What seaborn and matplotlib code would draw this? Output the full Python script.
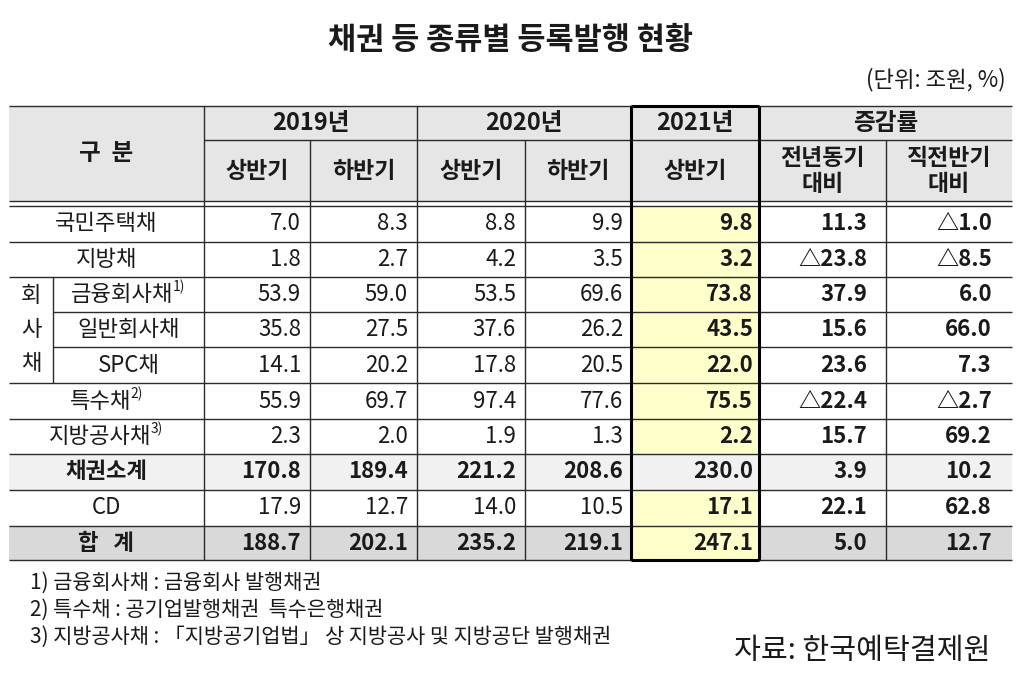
import numpy as np
import matplotlib.pyplot as plt
import seaborn as sns

sns.set_theme(style="white")
plt.rcParams['font.family'] = ['Noto Sans CJK KR', 'DejaVu Sans']

# --- table data (조원, %) ---
row_labels = ["국민주택채", "지방채", "금융회사채", "일반회사채", "SPC채",
              "특수채", "지방공사채", "채권소계", "CD", "합   계"]
row_notes = ["", "", "1)", "", "", "2)", "3)", "", "", ""]
h1_2019 = [7.0, 1.8, 53.9, 35.8, 14.1, 55.9, 2.3, 170.8, 17.9, 188.7]
h2_2019 = [8.3, 2.7, 59.0, 27.5, 20.2, 69.7, 2.0, 189.4, 12.7, 202.1]
h1_2020 = [8.8, 4.2, 53.5, 37.6, 17.8, 97.4, 1.9, 221.2, 14.0, 235.2]
h2_2020 = [9.9, 3.5, 69.6, 26.2, 20.5, 77.6, 1.3, 208.6, 10.5, 219.1]
h1_2021 = [9.8, 3.2, 73.8, 43.5, 22.0, 75.5, 2.2, 230.0, 17.1, 247.1]
yoy = [11.3, -23.8, 37.9, 15.6, 23.6, -22.4, 15.7, 3.9, 22.1, 5.0]
hoh = [-1.0, -8.5, 6.0, 66.0, 7.3, -2.7, 69.2, 10.2, 62.8, 12.7]

years = ["2019년", "2020년", "2021년", "증감률"]
sub_heads = ["상반기", "하반기", "상반기", "하반기", "상반기", "전년동기\n대비", "직전반기\n대비"]
footnotes = ["1) 금융회사채 : 금융회사 발행채권",
             "2) 특수채 : 공기업발행채권  특수은행채권",
             "3) 지방공사채 : 「지방공기업법」 상 지방공사 및 지방공단 발행채권"]

columns = [h1_2019, h2_2019, h1_2020, h2_2020, h1_2021, yoy, hoh]

# --- layout (pixels) ---
col_x = [9, 204, 310, 417, 525, 631, 759, 886, 1012]
sub_x = 53
row_y = [206, 242, 277, 312, 347, 383, 419, 454, 490, 526, 560]
top_y, mid_y, dbl_y = 106, 140, 201
pads = [9, 9, 9, 8, 6, 19, 20]

HEAD_BG = "#e6e6e6"
SUB_BG = "#f1f1f1"
TOT_BG = "#d9d9d9"
YELLOW = "#ffffcc"
LINE = "#2b2b2b"
TXT = "#1a1a1a"


def fmt(v):
    return ("△" if v < 0 else "") + f"{abs(v):.1f}"


fig = plt.figure(figsize=(10.22, 6.82), dpi=100)
ax = fig.add_axes([0, 0, 1, 1])
ax.set_xlim(0, 1022)
ax.set_ylim(682, 0)
ax.axis("off")

# backgrounds
ax.barh((top_y + dbl_y) / 2, col_x[-1] - col_x[0], left=col_x[0],
        height=dbl_y - top_y, color=HEAD_BG, linewidth=0)
for i in range(len(row_labels)):
    y0, y1 = row_y[i], row_y[i + 1]
    bg = "white"
    if row_labels[i] == "채권소계":
        bg = SUB_BG
    elif row_labels[i].startswith("합"):
        bg = TOT_BG
    ax.barh((y0 + y1) / 2, col_x[-1] - col_x[0], left=col_x[0],
            height=y1 - y0, color=bg, linewidth=0)
    if bg != SUB_BG:
        ax.barh((y0 + y1) / 2, col_x[6] - col_x[5], left=col_x[5],
                height=y1 - y0, color=YELLOW, linewidth=0)

# horizontal lines
lw = 1.0
ax.hlines([top_y, dbl_y, row_y[0]], col_x[0], col_x[-1], color=LINE, lw=lw)
ax.hlines(mid_y, col_x[1], col_x[-1], color=LINE, lw=lw)
for k, y in enumerate(row_y[1:], start=1):
    x_start = sub_x if k in (3, 4) else col_x[0]
    ax.hlines(y, x_start, col_x[-1], color=LINE, lw=lw)

# vertical lines
ax.vlines([col_x[1], col_x[3]], top_y, row_y[-1], color=LINE, lw=lw)
ax.vlines([col_x[2], col_x[4], col_x[7]], mid_y, row_y[-1], color=LINE, lw=lw)
ax.vlines(sub_x, row_y[2], row_y[5], color=LINE, lw=lw)
# thick 2021 box
ax.vlines([col_x[5], col_x[6]], top_y, row_y[-1], color="black", lw=2.2)
ax.hlines([top_y, row_y[-1]], col_x[5], col_x[6], color="black", lw=2.2)

# title and unit
ax.text(511, 40, "채권 등 종류별 등록발행 현황", ha="center", va="center",
        fontsize=22, fontweight="bold", color=TXT)
ax.text(1006, 80, "(단위: 조원, %)", ha="right", va="center", fontsize=16, color=TXT)

# header text
ax.text((col_x[0] + col_x[1]) / 2, 153, "구  분", ha="center", va="center",
        fontsize=17, fontweight="bold", color=TXT)
year_spans = [(col_x[1], col_x[3]), (col_x[3], col_x[5]), (col_x[5], col_x[6]), (col_x[6], col_x[8])]
for name, (a, b) in zip(years, year_spans):
    ax.text((a + b) / 2, (top_y + mid_y) / 2, name, ha="center", va="center",
            fontsize=17, fontweight="bold", color=TXT)
for j, name in enumerate(sub_heads):
    ax.text((col_x[j + 1] + col_x[j + 2]) / 2, (mid_y + dbl_y) / 2 + 1, name,
            ha="center", va="center", fontsize=16.5, fontweight="bold",
            color=TXT, linespacing=1.15)

# row labels
for i, lab in enumerate(row_labels):
    yc = (row_y[i] + row_y[i + 1]) / 2
    in_group = i in (2, 3, 4)
    x0 = sub_x if in_group else col_x[0]
    xc = (x0 + col_x[1]) / 2
    bold = lab in ("채권소계",) or lab.startswith("합")
    shift = -6 if row_notes[i] else 0
    t = ax.text(xc + shift, yc, lab, ha="center", va="center", fontsize=16,
                fontweight="bold" if bold else "normal", color=TXT)
    if row_notes[i]:
        ax.annotate(row_notes[i], xy=(1, 0.5), xycoords=t, xytext=(-0.5, 0),
                    textcoords="offset points", ha="left", va="bottom",
                    fontsize=10, color=TXT)

# 회사채 vertical label
gc = (row_y[2] + row_y[5]) / 2
for k, ch in enumerate("회사채"):
    ax.text((col_x[0] + sub_x) / 2, gc + (k - 1) * 34, ch, ha="center",
            va="center", fontsize=16, color=TXT)

# values
for j, col in enumerate(columns):
    xr = col_x[j + 2] - pads[j]
    for i, v in enumerate(col):
        yc = (row_y[i] + row_y[i + 1]) / 2
        bold = j >= 4 or i in (7, 9)
        ax.text(xr, yc, fmt(v), ha="right", va="center", fontsize=16,
                fontweight="bold" if bold else "normal", color=TXT)

# footnotes
for k, note in enumerate(footnotes):
    ax.text(30, 583 + k * 27, note, ha="left", va="center", fontsize=15, color=TXT)
ax.text(990, 651, "자료: 한국예탁결제원", ha="right", va="center", fontsize=21, color=TXT)

plt.savefig("out.png", dpi=100)
